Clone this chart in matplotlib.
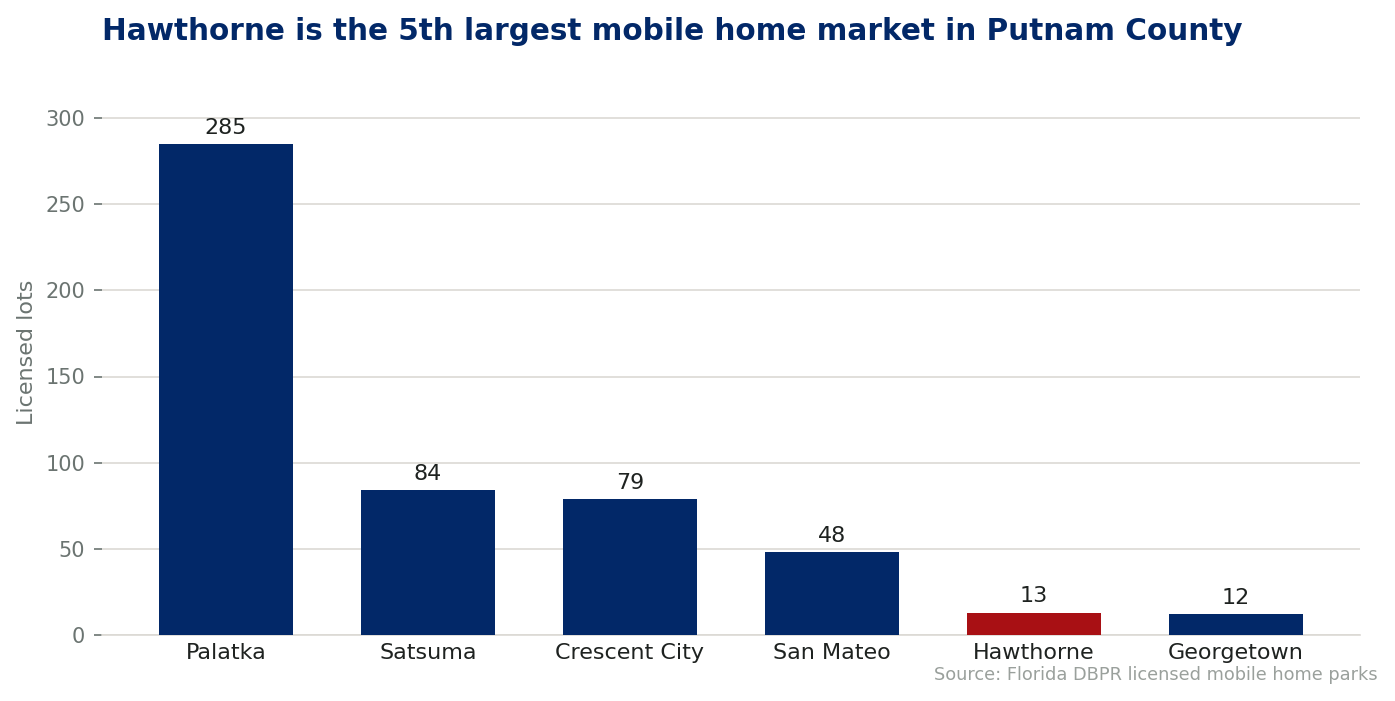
import matplotlib
matplotlib.use("Agg")
import matplotlib.pyplot as plt

categories = ["Palatka", "Satsuma", "Crescent City", "San Mateo", "Hawthorne", "Georgetown"]
lots = [285, 84, 79, 48, 13, 12]
highlight = "Hawthorne"
yticks = [0, 50, 100, 150, 200, 250, 300]

NAVY = "#022868"
RED = "#A81014"
GRID = "#DCD9D4"
TICK = "#6B7471"
TEXT = "#1E2220"

plt.rcParams['font.family'] = ['DejaVu Sans']
fig = plt.figure(figsize=(13.95, 7.01), dpi=100)
ymax = 327.75
ax = fig.add_axes([102/1395, 1-635/701, (1360-102)/1395, (ymax*517/300)/701])

colors = [RED if c == highlight else NAVY for c in categories]
x = list(range(len(categories)))
bars = ax.bar(x, lots, width=0.66, color=colors, zorder=3)
for xi, v in zip(x, lots):
    ax.annotate(str(v), (xi, v), xytext=(0, 4.5), textcoords="offset points",
                ha="center", va="bottom", fontsize=16, color=TEXT)

ax.set_ylim(0, ymax)
ax.set_xlim(-0.613, 5.613)
ax.set_yticks(yticks)
ax.set_xticks(x)
ax.set_xticklabels(categories, fontsize=16, color=TEXT)
ax.tick_params(axis="x", length=0, pad=5.5)
ax.tick_params(axis="y", labelsize=15, colors=TICK, length=6, width=1.2, pad=6)
for lbl in ax.get_yticklabels():
    lbl.set_color(TICK)
ax.yaxis.grid(True, color=GRID, linewidth=1.2, zorder=0)
ax.set_axisbelow(True)
for s in ["left", "right", "top"]:
    ax.spines[s].set_visible(False)
ax.spines["bottom"].set_color(GRID)
ax.spines["bottom"].set_linewidth(1.2)
ax.set_ylabel("Licensed lots", fontsize=16, color=TICK, labelpad=6.5)

fig.text(102/1395, 1-31/701, "Hawthorne is the 5th largest mobile home market in Putnam County",
         fontsize=21.25, fontweight="bold", color=NAVY, ha="left", va="center")
fig.text(1378/1395, 1-675/701, "Source: Florida DBPR licensed mobile home parks",
         fontsize=12.75, color="#9AA09C", ha="right", va="center")

fig.savefig("out.png", dpi=100)
